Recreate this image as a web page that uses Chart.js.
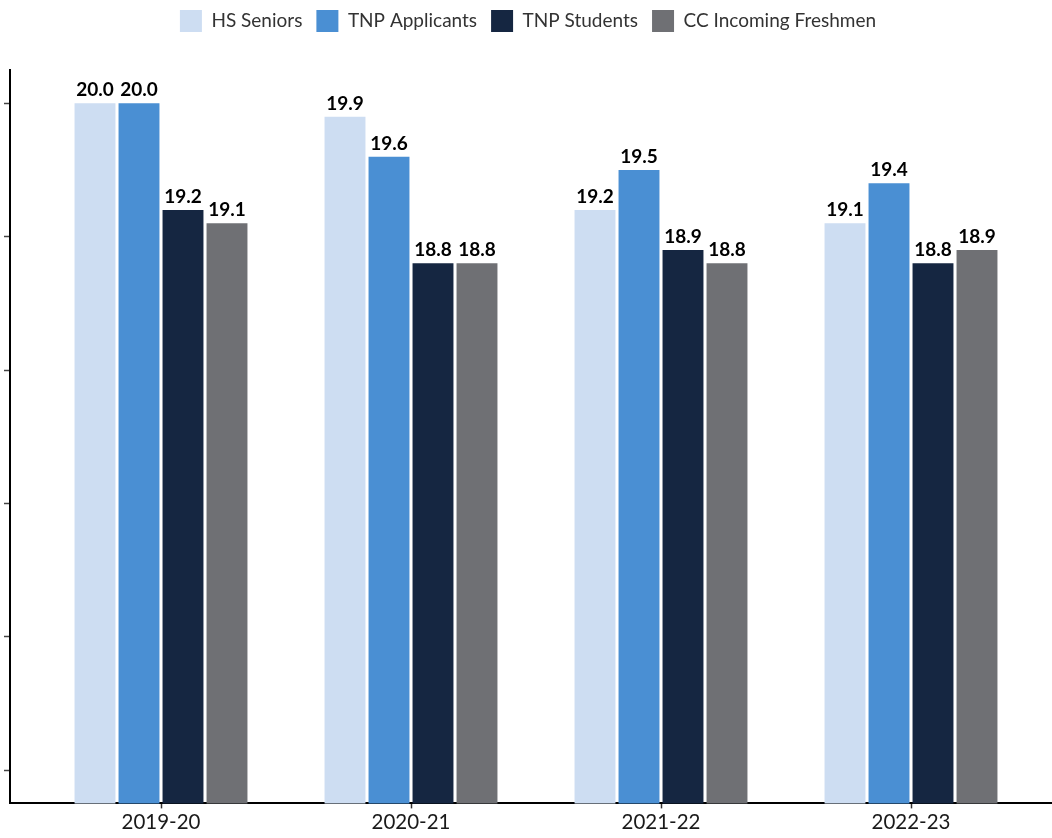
<!DOCTYPE html>
<html>
<head>
<meta charset="utf-8">
<script src="https://cdn.jsdelivr.net/npm/chart.js@4/dist/chart.umd.min.js"></script>
<style>
  body { margin: 0; background: #fff; }
</style>
</head>
<body>
<canvas id="myChart" width="1052" height="838"></canvas>
<script>
/*------------------------------DATA--------------------------------------------*/

const years = ['2019-20', '2020-21', '2021-22', '2022-23'];

const hsSeniors = [20.0, 19.9, 19.2, 19.1];
const tnpApplicants = [20.0, 19.6, 19.5, 19.4];
const tnpStudents = [19.2, 18.8, 18.9, 18.8];
const ccFreshmen = [19.1, 18.8, 18.8, 18.9];

const yTicks = [15, 16, 17, 18, 19, 20];

/*------------------------------CHART--------------------------------------------*/

// value labels on top of every bar
const barLabels = {
    id: 'barLabels',
    afterDatasetsDraw(chart) {
        const ctx = chart.ctx;
        ctx.save();
        ctx.font = 'bold 19px Lato';
        ctx.fillStyle = '#000';
        ctx.textAlign = 'center';
        ctx.textBaseline = 'alphabetic';
        chart.data.datasets.forEach((ds, i) => {
            chart.getDatasetMeta(i).data.forEach((bar, j) => {
                ctx.fillText(ds.data[j].toFixed(1), bar.x, bar.y - 7);
            });
        });
        ctx.restore();
    }
};

// extra room under the legend
const legendMargin = {
    id: 'legendMargin',
    beforeInit(chart) {
        const fit = chart.legend.fit;
        chart.legend.fit = function () {
            fit.bind(chart.legend)();
            this.height += 28;
        };
    }
};

const data = {
    labels: years,
    datasets: [
        { label: 'HS Seniors', data: hsSeniors, backgroundColor: '#CDDDF2' },
        { label: 'TNP Applicants', data: tnpApplicants, backgroundColor: '#4A8FD3' },
        { label: 'TNP Students', data: tnpStudents, backgroundColor: '#152641' },
        { label: 'CC Incoming Freshmen', data: ccFreshmen, backgroundColor: '#6F7074' }
    ]
};

const config = {
    type: 'bar',
    data: data,
    options: {
        responsive: false,
        animation: false,
        categoryPercentage: 0.704,
        barPercentage: 0.93,
        layout: { padding: { left: 4, right: 0, top: -4, bottom: 1 } },
        plugins: {
            legend: {
                position: 'top',
                labels: {
                    boxWidth: 22,
                    boxHeight: 22,
                    padding: 14,
                    color: '#333',
                    font: { family: 'Lato', size: 19 }
                }
            },
            tooltip: { enabled: false }
        },
        scales: {
            x: {
                offset: true,
                afterBuildTicks: s => { s._startValue = -0.604; s._valueRange = 4.168; },
                grid: { display: true, drawOnChartArea: false, offset: false, tickLength: 5, color: '#333', tickWidth: 1.5 },
                border: { color: '#000', width: 2 },
                ticks: { color: '#1a1a1a', padding: 2, font: { family: 'Lato', size: 20.5 } }
            },
            y: {
                min: 14.75,
                max: 20.25,
                afterBuildTicks: s => { s.ticks = yTicks.map(v => ({ value: v })); },
                grid: { display: true, drawOnChartArea: false, tickLength: 6, color: '#444', tickWidth: 1.5 },
                border: { color: '#000', width: 2 },
                ticks: { display: false }
            }
        }
    },
    plugins: [barLabels, legendMargin]
};

const myChart = new Chart(document.getElementById('myChart'), config);
</script>
</body>
</html>
